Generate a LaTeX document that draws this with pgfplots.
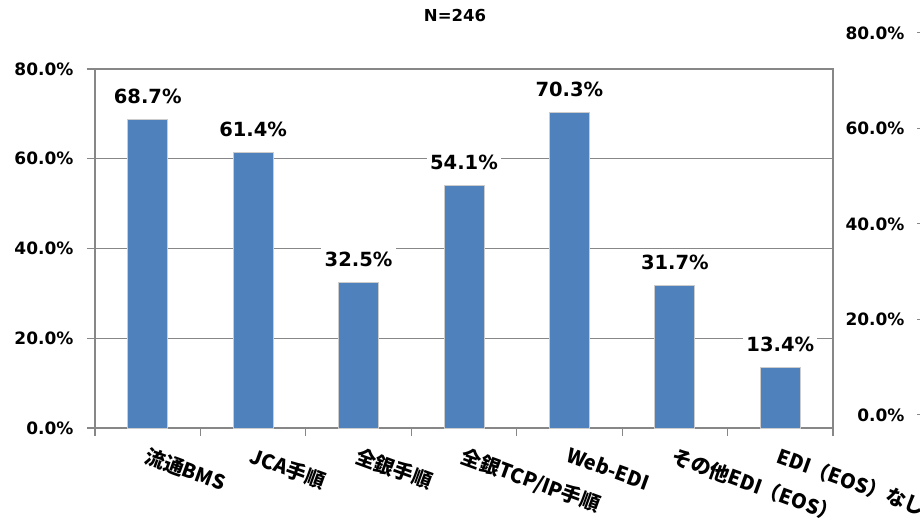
\documentclass[border=0pt]{standalone}
\usepackage{fontspec}
\setmainfont{DejaVu Sans}
\newfontfamily\jp{Noto Sans CJK JP}
\usepackage{pgfplots}
\pgfplotsset{compat=1.18}
\definecolor{barblue}{HTML}{4F81BD}
\definecolor{axgray}{HTML}{878787}

\begin{document}
\begin{tikzpicture}[x=1pt,y=1pt]
\path[use as bounding box] (0,0) rectangle (920,519);
\node[font=\bfseries\fontsize{16.5}{19}\selectfont] at (455,503) {N=246};

% main axis (left scale)
\begin{axis}[
  scale only axis, width=738pt, height=359pt,
  at={(95pt,91pt)}, anchor=south west,
  xmin=0.5, xmax=7.5, ymin=0, ymax=80,
  ybar, bar width=40pt, clip=false,
  axis line style={axgray, line width=1.2pt},
  tick style={axgray, line width=1.2pt},
  tick align=outside, major tick length=8pt,
  xtick pos=left, ytick pos=left,
  xtick={0.5,1.5,...,7.5}, xticklabels={},
  extra x ticks={1,2,3,4,5,6,7},
  extra x tick labels={流通BMS, JCA手順, 全銀手順, 全銀TCP/IP手順, Web-EDI, その他EDI（EOS）, EDI（EOS）なし},
  extra x tick style={major tick length=0pt,
    tick label style={rotate=-20, anchor=north west,
      font=\jp\bfseries\fontsize{20}{23}\selectfont, yshift=-13pt, xshift=4pt}},
  ytick={0,20,40,60,80},
  ymajorgrids, grid style={axgray, line width=1.2pt},
  yticklabel={\pgfmathprintnumber[assume math mode=true,fixed,fixed zerofill,precision=1]{\tick}\%},
  yticklabel style={font=\bfseries\fontsize{17}{20}\selectfont, xshift=-10pt},
  nodes near coords={\pgfmathprintnumber[assume math mode=true,fixed,fixed zerofill,precision=1]{\pgfplotspointmeta}\%},
  every node near coord/.append style={fill=white, text=black, anchor=south, yshift=12pt,
    font=\bfseries\fontsize{19.5}{23}\selectfont},
]
\addplot[fill=barblue, draw=white!80!black, line width=0.8pt] coordinates {
(1,68.7) (2,61.4) (3,32.5) (4,54.1) (5,70.3) (6,31.7) (7,13.4)
};
\end{axis}

% secondary scale on the right
\begin{axis}[
  scale only axis, width=10pt, height=382pt,
  at={(920pt,104pt)}, anchor=south west,
  xmin=0, xmax=1, ymin=0, ymax=80,
  hide x axis, axis y line*=left,
  y axis line style={draw=none},
  tick style={axgray, line width=1pt},
  tick align=outside, major tick length=3pt,
  ytick={0,20,40,60,80},
  yticklabel={\pgfmathprintnumber[assume math mode=true,fixed,fixed zerofill,precision=1]{\tick}\%},
  yticklabel style={font=\bfseries\fontsize{17}{20}\selectfont, xshift=-9pt},
]
\addplot[draw=none] coordinates {(0,0)};
\end{axis}
\end{tikzpicture}
\end{document}
